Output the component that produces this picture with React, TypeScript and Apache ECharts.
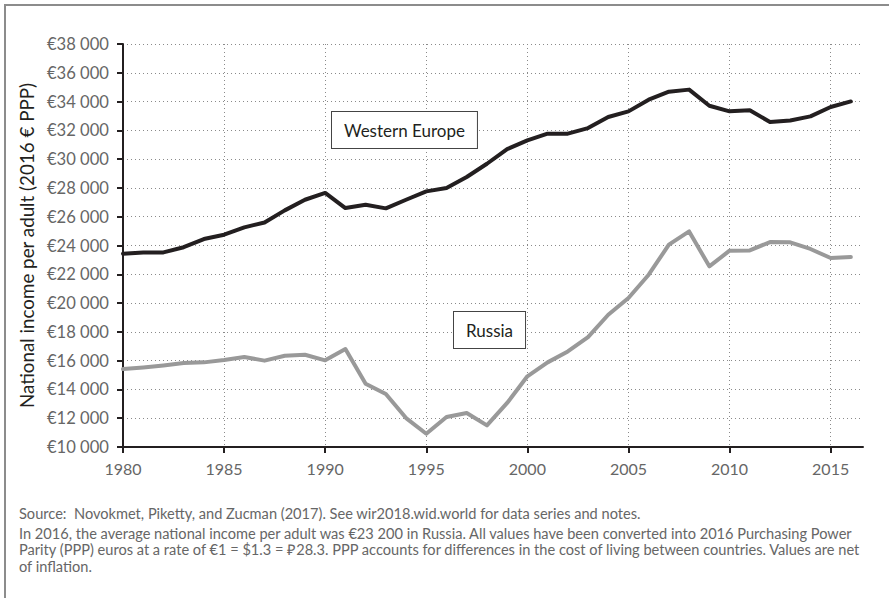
import React, { useEffect, useRef } from "react";
import * as echarts from "echarts";

const years: number[] = [];
for (let y = 1980; y <= 2016; y++) years.push(y);

const westernEurope = [
  23430, 23520, 23520, 23880, 24450, 24750, 25260, 25600, 26440, 27180,
  27650, 26600, 26830, 26580, 27180, 27760, 28000, 28760, 29680, 30700,
  31300, 31770, 31770, 32160, 32930, 33320, 34130, 34690, 34830, 33710,
  33320, 33390, 32580, 32690, 32970, 33620, 34010,
];

const russia = [
  15420, 15530, 15670, 15840, 15880, 16040, 16250, 16000, 16340, 16410,
  16020, 16810, 14400, 13680, 12010, 10920, 12080, 12360, 11500, 13060,
  14910, 15880, 16640, 17640, 19190, 20350, 21970, 24060, 24980, 22550,
  23640, 23660, 24240, 24220, 23760, 23130, 23200,
];

const xTicks = [1980, 1985, 1990, 1995, 2000, 2005, 2010, 2015];
const yAxisName = "National income per adult (2016 € PPP)";
const seriesNames = ["Western Europe", "Russia"];
const sourceLine =
  "Source:  Novokmet, Piketty, and Zucman (2017). See wir2018.wid.world for data series and notes.";
const noteLines = [
  "In 2016, the average national income per adult was €23 200 in Russia. All values have been converted into 2016 Purchasing Power",
  "Parity (PPP) euros at a rate of €1 = $1.3 = ₽28.3. PPP accounts for differences in the cost of living between countries. Values are net",
  "of inflation.",
];

const FONT = "Lato, 'Open Sans', sans-serif";

function fmtEuro(v: number) {
  const s = String(Math.round(v));
  const t = s.length > 3 ? s.slice(0, s.length - 3) + " " + s.slice(-3) : s;
  return "€" + t;
}

export default function App() {
  const ref = useRef<HTMLDivElement>(null);
  useEffect(() => {
    if (!ref.current) return;
    const chart = echarts.init(ref.current, undefined, { renderer: "svg" });
    const gridLine = { show: true, lineStyle: { color: "#8a8a8a", width: 1, type: [1, 3] as any } };
    chart.setOption({
      animation: false,
      backgroundColor: "#ffffff",
      grid: { left: 123, right: 26, top: 44, bottom: 151, containLabel: false },
      xAxis: {
        type: "value",
        min: 1980,
        max: 2016.6,
        interval: 5,
        axisLine: { show: true, lineStyle: { color: "#231f20", width: 2 } },
        axisTick: { show: true, length: 6, customValues: xTicks, lineStyle: { color: "#231f20", width: 2 } },
        axisLabel: {
          customValues: xTicks,
          color: "#666666",
          fontFamily: FONT,
          fontSize: 16,
          margin: 13,
          formatter: (v: number) => String(v),
        },
        splitLine: gridLine,
      },
      yAxis: {
        type: "value",
        min: 10000,
        max: 38000,
        interval: 2000,
        name: yAxisName,
        nameLocation: "middle",
        nameGap: 85,
        nameTextStyle: { color: "#231f20", fontFamily: FONT, fontSize: 18.8 },
        axisLine: { show: true, lineStyle: { color: "#231f20", width: 2 } },
        axisTick: { show: true, length: 6, lineStyle: { color: "#231f20", width: 2 } },
        axisLabel: {
          color: "#666666",
          fontFamily: FONT,
          fontSize: 16.6,
          margin: 14,
          formatter: (v: number) => fmtEuro(v),
        },
        splitLine: gridLine,
      },
      series: [
        {
          name: seriesNames[0],
          type: "line",
          data: years.map((y, i) => [y, westernEurope[i]]),
          showSymbol: false,
          symbol: "none",
          lineStyle: { color: "#231f20", width: 4, join: "round", cap: "round" },
          z: 3,
        },
        {
          name: seriesNames[1],
          type: "line",
          data: years.map((y, i) => [y, russia[i]]),
          showSymbol: false,
          symbol: "none",
          lineStyle: { color: "#999999", width: 4, join: "round", cap: "round" },
          z: 2,
        },
      ],
      graphic: [
        {
          type: "rect",
          shape: { x: 5, y: 5, width: 1000, height: 1000 },
          style: { fill: "none", stroke: "#8c8c8c", lineWidth: 2 },
          silent: true,
          z: -1,
        },
        {
          type: "text",
          x: 332,
          y: 112,
          style: {
            text: seriesNames[0],
            font: `17px ${FONT}`,
            fill: "#231f20",
            padding: [8, 12, 8, 12],
            lineHeight: 20,
            backgroundColor: "#ffffff",
            borderColor: "#444444",
            borderWidth: 1,
          },
          z: 10,
        },
        {
          type: "text",
          x: 454,
          y: 312,
          style: {
            text: seriesNames[1],
            font: `17px ${FONT}`,
            fill: "#231f20",
            padding: [8, 12, 8, 12],
            lineHeight: 20,
            backgroundColor: "#ffffff",
            borderColor: "#444444",
            borderWidth: 1,
          },
          z: 10,
        },
        {
          type: "text",
          x: 19,
          y: 505,
          style: { text: sourceLine, font: `14.6px ${FONT}`, fill: "#666666", lineHeight: 17 },
        },
        {
          type: "text",
          x: 19,
          y: 525,
          style: { text: noteLines.join("\n"), font: `14.6px ${FONT}`, fill: "#666666", lineHeight: 16.5 },
        },
      ],
    });
    return () => chart.dispose();
  }, []);
  return (
    <div
      ref={ref}
      style={{ position: "fixed", left: 0, top: 0, width: 889, height: 598, background: "#fff" }}
    />
  );
}
